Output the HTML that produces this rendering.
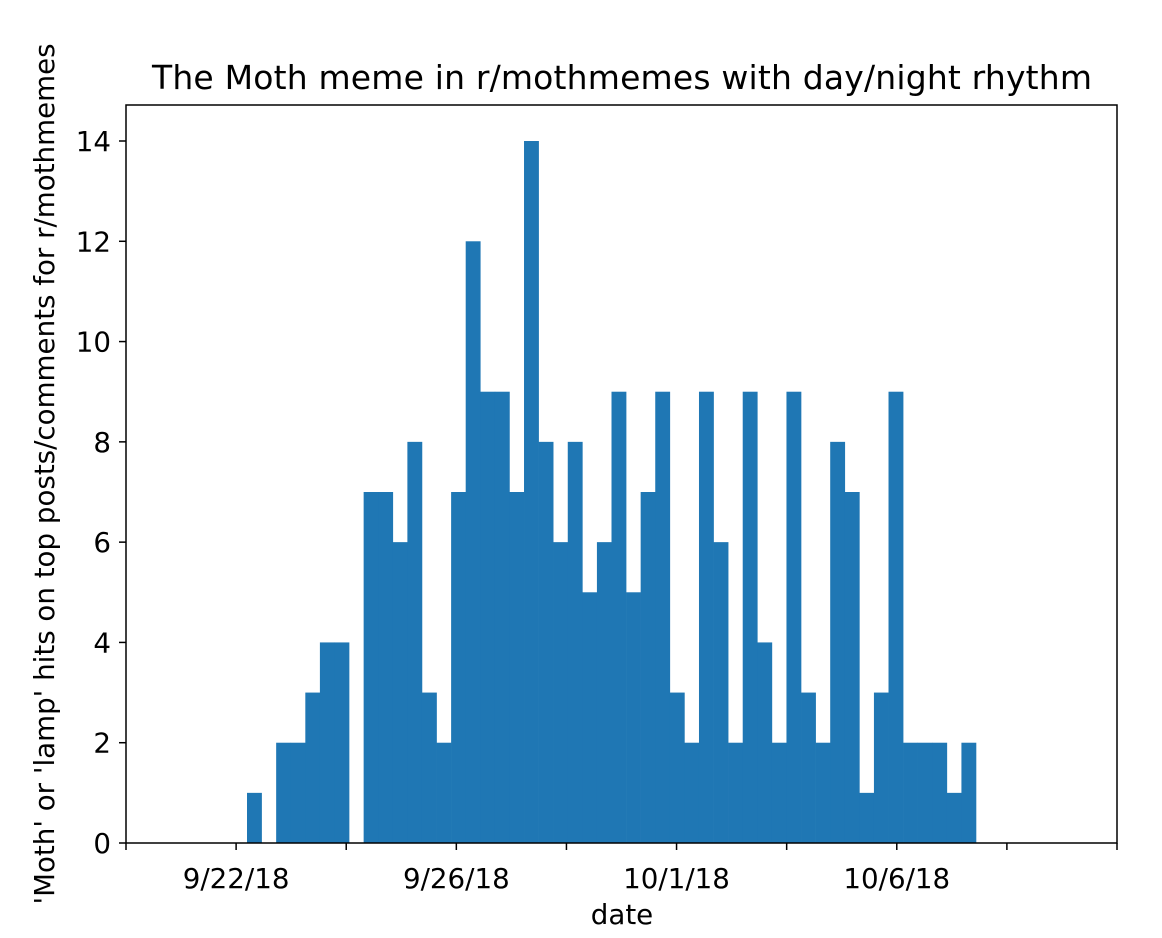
<!DOCTYPE html>
<html><head><meta charset="utf-8"><style>
html,body{margin:0;padding:0;background:#fff;}
svg{display:block;font-family:"DejaVu Sans","Liberation Sans",sans-serif;}
</style></head><body>
<svg id="chart" width="1162" height="938">
<rect x="0" y="0" width="1162" height="938" fill="#fff"/>
<text x="622" y="89" font-size="24" text-anchor="middle" textLength="940" lengthAdjust="spacing" style="font-size:33px">The Moth meme in r/mothmemes with day/night rhythm</text>
<g id="bars"></g>
<g id="axes"></g>
<rect x="126" y="105" width="991" height="738" fill="none" stroke="#000" stroke-width="1.5"/>
<text x="622" y="924" font-size="27.7" text-anchor="middle">date</text>
<text transform="translate(54,474) rotate(-90)" font-size="27.7" text-anchor="middle">'Moth' or 'lamp' hits on top posts/comments for r/mothmemes</text>
</svg>
<script>
// 8-hour bins starting at first non-empty bin
const binCounts = [1,0,2,2,3,4,4,0,7,7,6,8,3,2,7,12,9,9,7,14,8,6,8,5,6,9,5,7,9,3,2,9,6,2,9,4,2,9,3,2,8,7,1,3,9,2,2,2,1,2];
const yTicks = [0,2,4,6,8,10,12,14];
const xTickLabels = ["","9/22/18","","9/26/18","","10/1/18","","10/6/18","",""];

const NS = "http://www.w3.org/2000/svg";
const plotBottom = 843, plotTop = 105, plotLeft = 126, plotRight = 1117;
const binStart = 247, binWidth = 14.58;
function yScale(v){ return plotBottom - v * (843 - 141) / 14; }
function xScale(i){ return binStart + i * binWidth; }
function xTickPos(k){ return plotLeft + k * (plotRight - plotLeft) / 9; }

const barsG = document.getElementById('bars');
binCounts.forEach((v, i) => {
  if (v <= 0) return;
  const r = document.createElementNS(NS, 'rect');
  r.setAttribute('x', xScale(i));
  r.setAttribute('y', yScale(v));
  r.setAttribute('width', binWidth + 0.3);
  r.setAttribute('height', plotBottom - yScale(v));
  r.setAttribute('fill', '#1f77b4');
  
  
  barsG.appendChild(r);
});

const axesG = document.getElementById('axes');
yTicks.forEach(t => {
  const y = yScale(t);
  const l = document.createElementNS(NS, 'line');
  l.setAttribute('x1', plotLeft - 7); l.setAttribute('x2', plotLeft);
  l.setAttribute('y1', y); l.setAttribute('y2', y);
  l.setAttribute('stroke', '#000'); l.setAttribute('stroke-width', '1.5');
  
  
  axesG.appendChild(l);
  const tx = document.createElementNS(NS, 'text');
  tx.setAttribute('x', plotLeft - 15); tx.setAttribute('y', y + 10);
  tx.setAttribute('font-size', '27.7'); tx.setAttribute('text-anchor', 'end');
  tx.textContent = t;
  
  
  axesG.appendChild(tx);
});
xTickLabels.forEach((lab, k) => {
  const x = xTickPos(k);
  const l = document.createElementNS(NS, 'line');
  l.setAttribute('x1', x); l.setAttribute('x2', x);
  l.setAttribute('y1', plotBottom); l.setAttribute('y2', plotBottom + 7);
  l.setAttribute('stroke', '#000'); l.setAttribute('stroke-width', '1.5');
  
  
  axesG.appendChild(l);
  if (lab) {
    const tx = document.createElementNS(NS, 'text');
    tx.setAttribute('x', x); tx.setAttribute('y', plotBottom + 45);
    tx.setAttribute('font-size', '27.7'); tx.setAttribute('text-anchor', 'middle');
    tx.textContent = lab;
    
    
    axesG.appendChild(tx);
  }
});
</script>
</body></html>
